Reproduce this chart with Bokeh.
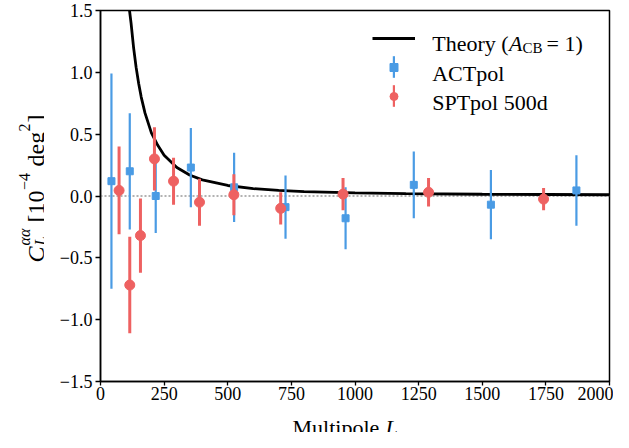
from math import pi
from bokeh.plotting import figure
from bokeh.layouts import row, column
from bokeh.models import (Range1d, FixedTicker, Label, Legend, LegendItem, Span,
                          ColumnDataSource)
from bokeh.embed import file_html
from bokeh.resources import INLINE

# ---------------- data ----------------
theory_L = [108, 114, 120, 130, 140, 150, 160, 175, 200, 225, 250, 300, 350, 400,
            500, 600, 700, 800, 1000, 1200, 1500, 1750, 2000]
theory_C = [1.70, 1.50, 1.40, 1.20, 1.04, 0.91, 0.80, 0.67, 0.51, 0.41, 0.33, 0.23,
            0.17, 0.13, 0.085, 0.06, 0.045, 0.036, 0.025, 0.019, 0.014, 0.012, 0.010]

act_L = [43, 115, 217, 355, 525, 727, 963, 1231, 1534, 1870]
act_C = [0.12, 0.20, 0.00, 0.23, 0.07, -0.09, -0.18, 0.09, -0.07, 0.045]
act_err = [0.87, 0.47, 0.30, 0.32, 0.28, 0.255, 0.25, 0.27, 0.28, 0.285]

spt_L = [73, 115, 157, 212, 287, 389, 524, 708, 953, 1289, 1741]
spt_C = [0.045, -0.72, -0.32, 0.30, 0.12, -0.05, 0.01, -0.10, 0.015, 0.03, -0.025]
spt_err = [0.355, 0.39, 0.30, 0.255, 0.19, 0.19, 0.165, 0.13, 0.13, 0.115, 0.09]

xticks = [0, 250, 500, 750, 1000, 1250, 1500, 1750, 2000]
yticks = [-1.5, -1.0, -0.5, 0.0, 0.5, 1.0, 1.5]
ytick_labels = ["\u22121.5", "\u22121.0", "\u22120.5", "0.0", "0.5", "1.0", "1.5"]

BLUE = "#4A9BE4"
RED = "#EE6161"
FONT = "Liberation Serif"

TOTAL_W, TOTAL_H = 613, 432
YLAB_W = 44
FRAME_TOP, FRAME_BOT = 10, 381        # frame edges (px from top of page content)
FRAME_RIGHT = 609
MAIN_H = 407

# ---------------- main plot ----------------
p = figure(width=TOTAL_W - YLAB_W, height=MAIN_H,
           x_range=Range1d(0, 2000), y_range=Range1d(-1.5, 1.5),
           output_backend="svg", toolbar_location=None, title=None,
           min_border_left=100 - YLAB_W, min_border_right=TOTAL_W - FRAME_RIGHT,
           min_border_top=FRAME_TOP, min_border_bottom=MAIN_H - FRAME_BOT)
p.grid.visible = False
p.outline_line_color = "black"
p.outline_line_width = 1.5
p.background_fill_color = "white"
p.border_fill_color = "white"

for ax in (p.xaxis[0], p.yaxis[0]):
    ax.major_tick_out = 5
    ax.major_tick_in = 0
    ax.minor_tick_out = 0
    ax.minor_tick_in = 0
    ax.axis_line_width = 1.5
    ax.major_tick_line_width = 1.3
    ax.major_label_text_font = FONT
    ax.major_label_text_font_size = "18px"
    ax.major_label_text_color = "black"
p.xaxis.ticker = FixedTicker(ticks=xticks, minor_ticks=[])
p.yaxis.ticker = FixedTicker(ticks=yticks, minor_ticks=[])
p.yaxis.major_label_overrides = dict(zip(yticks, ytick_labels))
p.xaxis.major_tick_out = 4
p.xaxis.major_label_standoff = 1
p.yaxis.major_label_standoff = 3

p.add_layout(Span(location=0, dimension="width", line_color="#999999", line_width=1.3,
                  line_dash="2 2", level="underlay"))

theory_r = p.line(theory_L, theory_C, line_color="black", line_width=2.8)

act_src = ColumnDataSource(dict(L=act_L, C=act_C, h=[2 * e for e in act_err]))
spt_src = ColumnDataSource(dict(L=spt_L, C=spt_C, h=[2 * e for e in spt_err]))

act_bars = p.rect(x="L", y="C", width=2.2, height="h", width_units="screen",
                  source=act_src, fill_color=BLUE, line_color=None)
act_m = p.scatter(x="L", y="C", marker="square", size=7, fill_color=BLUE,
                  line_color=BLUE, source=act_src)
spt_bars = p.rect(x="L", y="C", width=3, height="h", width_units="screen",
                  source=spt_src, fill_color=RED, line_color=None)
spt_m = p.scatter(x="L", y="C", marker="circle", size=10, fill_color=RED,
                  line_color=RED, source=spt_src)

# legend key blocks: (x, y) of each block's bottom-left, from the frame's bottom-left
fb = FRAME_BOT
common = dict(padding=0, margin=0, border_line_alpha=0, background_fill_alpha=0,
              label_text_font_size="1px", label_width=0, label_standoff=0)
legB = Legend(items=[LegendItem(label=" ", renderers=[act_bars]),
                     LegendItem(label=" ", renderers=[spt_bars])],
              location=(291.7, fb - 109.2), glyph_width=3, glyph_height=27,
              label_height=27, spacing=2, **common)
legA = Legend(items=[LegendItem(label=" ", renderers=[theory_r]),
                     LegendItem(label=" ", renderers=[act_m]),
                     LegendItem(label=" ", renderers=[spt_m])],
              location=(271.7, fb - 105.7), glyph_width=43, glyph_height=20,
              label_height=20, spacing=9, **common)
p.add_layout(legB)
p.add_layout(legA)


def lab(fig, text, x, y, size, italic=False, angle=0.0, units="screen"):
    fig.add_layout(Label(x=x, y=y, x_units=units, y_units=units, text=text,
                         text_font=FONT, text_font_size=f"{size}px",
                         text_font_style="italic" if italic else "normal",
                         text_baseline="alphabetic", text_align="left",
                         angle=angle, text_color="black"))


# legend texts
lab(p, "Theory (", 331.7, fb - 43.3, 22)
lab(p, "A", 408.5, fb - 43.3, 22, italic=True)
lab(p, "CB", 422.0, fb - 47.5, 15)
lab(p, "= 1)", 446.0, fb - 43.3, 22)
lab(p, "ACTpol", 331.7, fb - 73.3, 22)
lab(p, "SPTpol 500d", 331.7, fb - 102.3, 22)


def blank(w, h):
    f = figure(width=w, height=h, x_range=Range1d(0, 1), y_range=Range1d(0, 1),
               output_backend="svg", toolbar_location=None, title=None,
               x_axis_location=None, y_axis_location=None,
               min_border_left=0, min_border_right=0, min_border_top=0,
               min_border_bottom=0)
    f.grid.visible = False
    f.outline_line_color = None
    f.background_fill_color = "white"
    f.border_fill_color = "white"
    return f


# ---------------- y-axis label panel (canvas px, measured from its top-left) ----
yl = blank(YLAB_W, MAIN_H)
a = pi / 2
bx = 35
c0 = 262          # where the label starts (its lower end)
lab(yl, "C", bx, c0, 24, italic=True, angle=a, units="canvas")
lab(yl, "L", bx + 5, c0 - 17, 16, italic=True, angle=a, units="canvas")
lab(yl, "\u03b1\u03b1", bx - 11, c0 - 17, 16, italic=True, angle=a, units="canvas")
lab(yl, "[10", bx, c0 - 40, 24, angle=a, units="canvas")
lab(yl, "\u22124", bx - 11, c0 - 72.5, 16, angle=a, units="canvas")
lab(yl, "deg", bx, c0 - 96, 24, angle=a, units="canvas")
lab(yl, "2", bx - 11, c0 - 131, 16, angle=a, units="canvas")
lab(yl, "]", bx, c0 - 140, 24, angle=a, units="canvas")

# ---------------- x-axis label panel ----------------
xl = blank(TOTAL_W, TOTAL_H - MAIN_H)
lab(xl, "Multipole", 292, 19.5, 22, units="canvas")
lab(xl, "L", 385, 19.5, 22, italic=True, units="canvas")

layout = column(row(yl, p), xl)
open("out.html", "w").write(file_html(layout, INLINE))
